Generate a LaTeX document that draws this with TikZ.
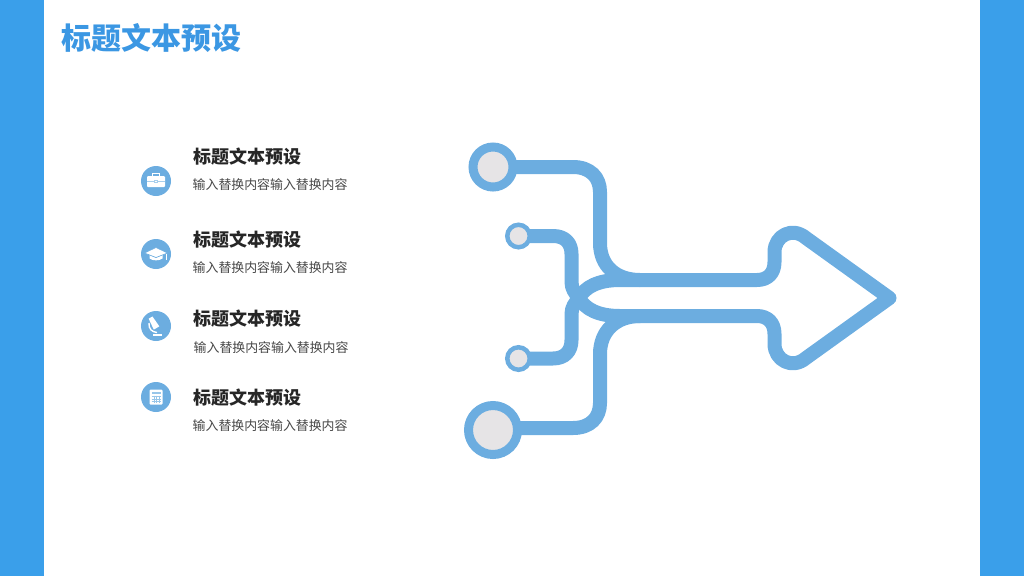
\documentclass[tikz,border=0pt]{standalone}
\usepackage{fontspec}
\setmainfont{Noto Sans CJK SC}
\definecolor{azulbarra}{HTML}{3A9FEA}
\definecolor{azultitulo}{HTML}{3B97E3}
\definecolor{azullinea}{HTML}{6CADE0}
\definecolor{grisdisco}{HTML}{E6E4E6}
\tikzset{
  disco/.style={circle,draw=azullinea,fill=grisdisco,inner sep=0pt,outer sep=0pt},
  linea/.style={draw=azullinea,line width=14pt,line join=round},
  icono/.style={circle,fill=azullinea,inner sep=0pt,minimum size=30pt},
  cabeza/.style={anchor=west,inner sep=0pt,font=\bfseries\fontsize{18}{18}\selectfont,text=black!85},
  texto/.style={anchor=west,inner sep=0pt,font=\fontsize{12.9}{13}\selectfont,text=black!72},
}
\begin{document}
\begin{tikzpicture}[x=1pt,y=-1pt]
\useasboundingbox (0,0) rectangle (1024,576);

% Barras laterales
\fill[azulbarra] (0,0) rectangle (44,576);
\fill[azulbarra] (980,0) rectangle (1024,576);

% Titulo
\node[anchor=west,inner sep=0pt,text=azultitulo,font=\bfseries\fontsize{30}{30}\selectfont] (titulo) at (61.5,38.5) {标题文本预设};

% Discos
\node[disco,line width=9pt,minimum size=40pt] (d1) at (493,167) {};
\node[disco,line width=4.5pt,minimum size=22.5pt] (d2) at (518.5,236) {};
\node[disco,line width=4.5pt,minimum size=22.5pt] (d3) at (518.5,358.5) {};
\node[disco,line width=9pt,minimum size=49pt] (d4) at (493,430) {};

% Puntos de union
\coordinate (n1) at (640,280);
\coordinate (n2) at (640,316);
\coordinate (punta) at (889.5,298);
\coordinate (lente) at (579,298);

% Lineas de los discos
\draw[linea] (d1) -- (573,167) .. controls (590,167) and (600,177) .. (600,192) -- (600,243) .. controls (600,266) and (616,280) .. (n1);
\draw[linea] (d2) -- (553,236) .. controls (565,236) and (571.5,243) .. (571.5,254) -- (571.5,282) .. controls (571.5,289) and (575,293) .. (lente);
\draw[linea] (d3) -- (553,358.5) .. controls (565,358.5) and (571.5,351) .. (571.5,340) -- (571.5,314) .. controls (571.5,307) and (575,303) .. (lente);
\draw[linea] ([yshift=2pt]d4.east) -- (573,428) .. controls (590,428) and (600,418) .. (600,403) -- (600,354) .. controls (600,331) and (616,316) .. (n2);

% Lente central
\draw[linea] (lente) .. controls (585,287) and (598,280) .. (620,280) -- (n1);
\draw[linea] (lente) .. controls (585,309) and (598,316) .. (620,316) -- (n2);

% Flecha
\draw[linea] (n1) -- (757,280) .. controls (768,280) and (774.5,273) .. (774.5,262) -- (774.5,252) .. controls (774.5,236) and (792,226) .. (806,238) -- (punta) -- (806,358) .. controls (792,370) and (774.5,360) .. (774.5,344) -- (774.5,334) .. controls (774.5,323) and (768,316) .. (757,316) -- (n2);

% Iconos
\node[icono] (i1) at (156,181) {};
\node[icono] (i2) at (156,254) {};
\node[icono] (i3) at (156,326) {};
\node[icono] (i4) at (156,397) {};

% Maletin
\begin{scope}[shift={(i1)}]
\draw[white,line width=.8pt] (-3.5,-5) -- (-3.5,-7.5) -- (3.5,-7.5) -- (3.5,-5);
\fill[white,rounded corners=1pt] (-9,-5) rectangle (9,6);
\draw[azullinea!60,line width=.5pt] (-9,0) -- (-2,0) (2,0) -- (9,0);
\draw[azullinea!60,line width=.5pt] (-1.5,-1.2) rectangle (1.5,1.2);
\end{scope}

% Birrete
\begin{scope}[shift={(i2)}]
\fill[white] (-6.5,1) -- (0,4) -- (6.5,1) -- (6.5,4.5) .. controls (3,7) and (-3,7) .. (-6.5,4.5) -- cycle;
\draw[azullinea,line width=.6pt,fill=white] (-11.5,-1) -- (0,-6.5) -- (11.5,-1) -- (0,3.5) -- cycle;
\fill[white] (9.5,0) rectangle (10.7,6);
\end{scope}

% Microscopio
\begin{scope}[shift={(i3)}]
\fill[white,rotate=30,shift={(-.5,-2)}] (-2.2,-8) -- (2.2,-8) -- (3.2,4) -- (-3.2,4) -- cycle;
\draw[white,line width=1.4pt] (-7,-3) .. controls (-7.5,3) and (-4,6) .. (1,6.5);
\fill[white] (-3.5,7.5) rectangle (6,9.5);
\end{scope}

% Calculadora
\begin{scope}[shift={(i4)}]
\fill[white,rounded corners=1pt] (-6.5,-7.5) rectangle (6.5,7.5);
\fill[azullinea!70] (-4.5,-5.5) rectangle (4.5,-3);
\draw[azullinea!70,line width=.5pt] (-4.5,-.5) -- (4.5,-.5) (-4.5,2) -- (4.5,2) (-4.5,4.5) -- (4.5,4.5);
\draw[azullinea!70,line width=.5pt] (-2,-1.5) -- (-2,5.5) (.5,-1.5) -- (.5,5.5) (3,-1.5) -- (3,5.5);
\end{scope}

% Textos
\node[cabeza] (c1) at (193,156.7) {标题文本预设};
\node[texto] (t1) at (192.5,184.7) {输入替换内容输入替换内容};
\node[cabeza] (c2) at (193,239.7) {标题文本预设};
\node[texto] (t2) at (192.5,267.7) {输入替换内容输入替换内容};
\node[cabeza] (c3) at (193,318.7) {标题文本预设};
\node[texto] (t3) at (193.5,347.7) {输入替换内容输入替换内容};
\node[cabeza] (c4) at (193,397.7) {标题文本预设};
\node[texto] (t4) at (192.5,425.7) {输入替换内容输入替换内容};
\end{tikzpicture}
\end{document}
